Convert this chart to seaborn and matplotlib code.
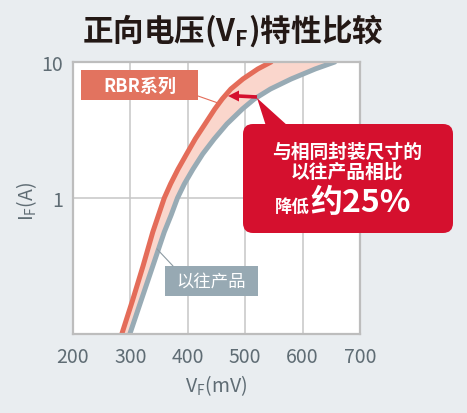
import pandas as pd
import seaborn as sns
import matplotlib.pyplot as plt
from matplotlib.patches import FancyBboxPatch, Polygon, Rectangle
from matplotlib.ticker import NullLocator

# forward current (A) and forward voltage (mV)
current_a = [0.1, 0.178, 0.316, 0.562, 0.75, 1, 1.27, 1.63, 2.11, 2.72, 3.5, 4.51, 5.35, 6.33, 7.5, 8.89, 10]
rbr_mv = [285, 304, 322, 339, 349, 359, 370, 383, 398, 413, 430, 447, 460, 475, 496, 522, 545]
old_mv = [299, 319, 339, 359, 371, 382, 394, 409, 426, 446, 468, 495, 516, 544, 580, 622, 656]
series_names = ['RBR系列', '以往产品']
x_ticks = [200, 300, 400, 500, 600, 700]
y_ticks = [1, 10]
y_tick_labels = ['1', '10']

W, H, DPI = 467, 414, 100
BG = '#e9edf0'
RED_LINE = '#e46c59'
GRAY_LINE = '#98abb5'
BAND = '#fad6cc'
CRIMSON = '#d5102e'
TXT = '#5f6c74'


def px(x, y):
    # pixel position (from top left) -> inches for fig.dpi_scale_trans
    return x / DPI, (H - y) / DPI


if __name__ == "__main__":
    sns.set_theme(style='white')
    plt.rcParams['font.family'] = ['Noto Sans CJK SC', 'DejaVu Sans']

    df = pd.DataFrame({
        'VF': rbr_mv + old_mv,
        'IF': current_a + current_a,
        'series': [series_names[0]] * len(current_a) + [series_names[1]] * len(current_a),
    })

    fig = plt.figure(figsize=(W / DPI, H / DPI), dpi=DPI, facecolor=BG)
    ax = fig.add_axes([73 / W, (H - 335) / H, 287 / W, 272 / H])
    ax.set_facecolor('white')
    T = fig.dpi_scale_trans

    # band between the two curves
    ax.fill_betweenx(current_a, rbr_mv, old_mv, color=BAND, lw=0, zorder=1)
    sns.lineplot(data=df, x='VF', y='IF', hue='series', hue_order=series_names[::-1],
                 palette={series_names[0]: RED_LINE, series_names[1]: GRAY_LINE},
                 sort=False, estimator=None, linewidth=3.6, legend=False, ax=ax, zorder=2)
    for ln in ax.lines:
        ln.set_solid_joinstyle('round')

    ax.set_yscale('log')
    ax.set_xlim(200, 700)
    ax.set_ylim(0.1, 10)
    ax.set_xticks(x_ticks)
    ax.set_xticklabels([str(v) for v in x_ticks])
    ax.set_yticks(y_ticks)
    ax.set_yticklabels(y_tick_labels)
    ax.yaxis.set_minor_locator(NullLocator())
    ax.grid(True, which='major', color='#c6c6c6', lw=1.1)
    ax.tick_params(length=0, labelsize=14, colors=TXT)
    ax.tick_params(axis='x', pad=9)
    ax.tick_params(axis='y', pad=7)
    ax.set_xlabel('')
    ax.set_ylabel('')
    for s in ax.spines.values():
        s.set_color('#bdbdbd')
        s.set_linewidth(1.6)

    # titles / axis labels
    fig.text(*px(233, 31), r'正向电压(V$_\mathregular{F}$)特性比较', transform=T,
             ha='center', va='center', fontsize=22, fontweight='bold', color='#231815')
    fig.text(*px(216, 386), r'V$_\mathregular{F}$(mV)', transform=T,
             ha='center', va='center', fontsize=14, color=TXT)
    fig.text(*px(27, 201), r'I$_\mathregular{F}$(A)', transform=T, rotation=90,
             ha='center', va='center', fontsize=14, color=TXT)

    # RBR label box + leader
    fig.add_artist(Rectangle(px(81, 101), 117 / DPI, 30 / DPI, transform=T,
                             facecolor='#e2735f', edgecolor='none'))
    fig.text(*px(140, 86), 'RBR系列', transform=T, ha='center', va='center',
             fontsize=13, fontweight='bold', color='white')
    fig.add_artist(plt.Line2D(*zip(px(198, 97), px(218, 104)), transform=T,
                              color='#e46c59', lw=0.8))

    # conventional product label box + leader
    fig.add_artist(Rectangle(px(165, 297), 93 / DPI, 30 / DPI, transform=T,
                             facecolor='#97a9b3', edgecolor='none'))
    fig.text(*px(211, 282), '以往产品', transform=T, ha='center', va='center',
             fontsize=12.5, color='white')
    fig.add_artist(plt.Line2D(*zip(px(173, 267), px(157, 250)), transform=T,
                              color='#8c9aa2', lw=0.8))

    # arrow between the curves
    fig.add_artist(plt.Line2D(*zip(px(257, 98), px(238, 97)), transform=T,
                              color=CRIMSON, lw=2.6, solid_capstyle='butt'))
    fig.add_artist(Polygon([px(228, 97), px(239, 91.5), px(239, 102.5)], closed=True,
                           transform=T, facecolor=CRIMSON, edgecolor='none'))

    # callout
    fig.add_artist(FancyBboxPatch(px(243, 234), 210 / DPI, 109 / DPI, transform=T,
                                  boxstyle='round,pad=0,rounding_size=0.1',
                                  facecolor=CRIMSON, edgecolor='none'))
    fig.add_artist(Polygon([px(257, 99), px(266, 127), px(288, 127)], closed=True,
                           transform=T, facecolor=CRIMSON, edgecolor='none'))
    fig.text(*px(347, 152), '与相同封装尺寸的', transform=T, ha='center', va='center',
             fontsize=13.5, fontweight='bold', color='white')
    fig.text(*px(347, 172), '以往产品相比', transform=T, ha='center', va='center',
             fontsize=13.5, fontweight='bold', color='white')
    fig.text(*px(310, 212), '降低', transform=T, ha='right', va='baseline',
             fontsize=12.5, fontweight='bold', color='white')
    fig.text(*px(310, 212), '约25%', transform=T, ha='left', va='baseline',
             fontsize=23, fontweight='bold', color='white')

    fig.savefig('out.png', dpi=DPI, facecolor=BG)
